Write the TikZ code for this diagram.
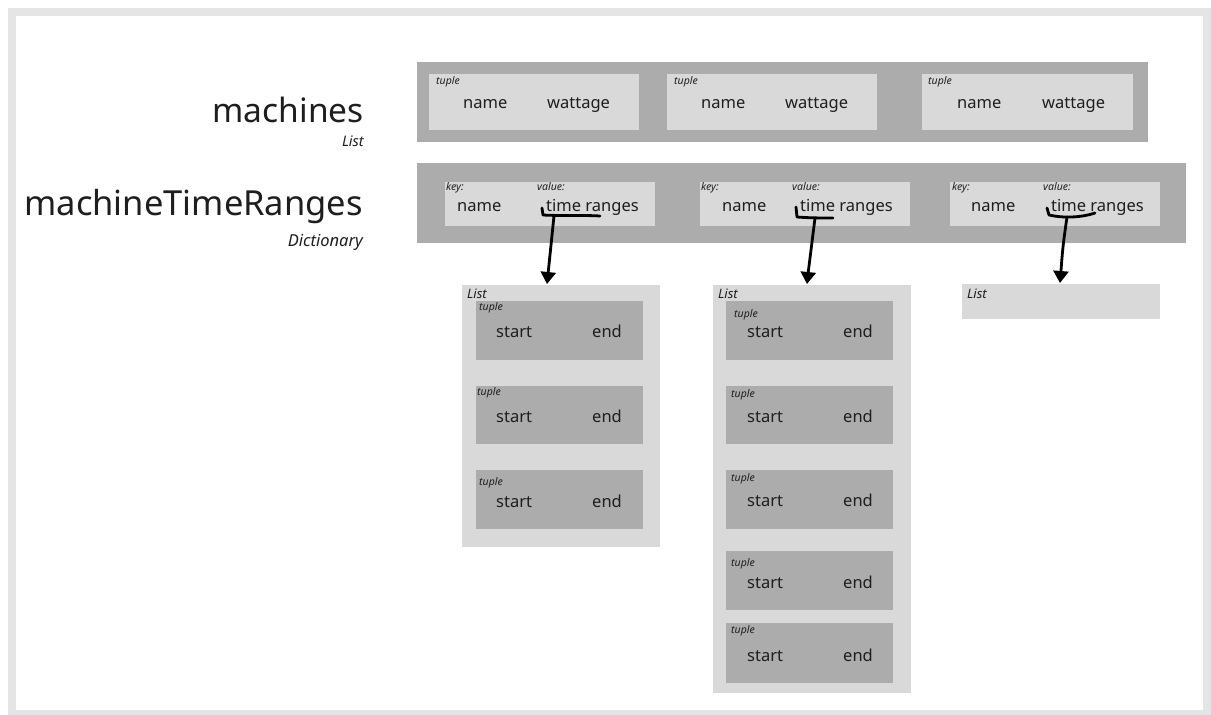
\documentclass[tikz,border=0pt]{standalone}
\usepackage{fontspec}
\setmainfont{Noto Sans}
\usetikzlibrary{arrows.meta}
\definecolor{framegrey}{HTML}{E5E5E5}
\definecolor{darkfill}{HTML}{ACACAC}
\definecolor{lightfill}{HTML}{D9D9D9}
\definecolor{ink}{HTML}{1E1E1E}
\newcommand\rbox[6]{\node[#1, minimum width=#5pt, minimum height=#6pt] (#2) at (#3,#4) {};}
\begin{document}
\begin{tikzpicture}[x=1pt,y=-1pt,
  box/.style={anchor=north west, inner sep=0pt, outer sep=0pt, draw=none},
  darkbox/.style={box, fill=darkfill},
  lightbox/.style={box, fill=lightfill},
  txt/.style={anchor=base west, inner sep=0pt, text=ink, font=\fontsize{16.5}{16.5}\selectfont},
  tag/.style={anchor=base west, inner sep=0pt, text=ink, font=\fontsize{10.5}{10.5}\selectfont\itshape},
  keytag/.style={anchor=base west, inner sep=0pt, text=ink, font=\fontsize{10.5}{10.5}\selectfont\itshape},
  listtag/.style={anchor=base west, inner sep=0pt, text=ink, font=\fontsize{13}{13}\selectfont\itshape},
  title/.style={anchor=base east, inner sep=0pt, text=ink, font=\fontsize{#1}{#1}\selectfont},
  subtitle/.style={anchor=base east, inner sep=0pt, text=ink, font=\fontsize{#1}{#1}\selectfont\itshape},
  hand/.style={draw=black, line width=2.8pt, line cap=round, line join=round},
  pointer/.style={hand, -{Triangle[width=15pt,length=12pt]}}
]
\useasboundingbox (0,0) rectangle (1211,715);
% page frame
\fill[framegrey] (8,8) rectangle (1211,715);
\fill[white] (16,16) rectangle (1203,710);

% headings
\node[title=33.5] (tmach) at (364,122) {machines};
\node[subtitle=14.5] (smach) at (364,146) {List};
\node[title=34.5] (tdict) at (363,215) {machineTimeRanges};
\node[subtitle=16.5] (sdict) at (363,246) {Dictionary};

% machines list
\rbox{darkbox}{mbar}{417}{62}{731}{80}
\rbox{lightbox}{mt1}{429}{74}{210}{56}
\rbox{lightbox}{mt2}{667}{74}{210}{56}
\rbox{lightbox}{mt3}{922}{74}{211}{56}
\node[tag] (mtt1) at (436,84) {tuple};
\node[tag] (mtt2) at (674,84) {tuple};
\node[tag] (mtt3) at (928,84) {tuple};
\node[txt] (mn1) at (463,108) {name};
\node[txt] (mn2) at (701,108) {name};
\node[txt] (mn3) at (957,108) {name};
\node[txt] (mw1) at (547,108) {wattage};
\node[txt] (mw2) at (785,108) {wattage};
\node[txt] (mw3) at (1042,108) {wattage};

% dictionary
\rbox{darkbox}{dbar}{417}{163}{769}{80}
\rbox{lightbox}{kv1}{445}{182}{210}{44}
\rbox{lightbox}{kv2}{700}{182}{210}{44}
\rbox{lightbox}{kv3}{950}{182}{210}{44}
\node[keytag] (k1) at (446,190) {key:};
\node[keytag] (k2) at (701,190) {key:};
\node[keytag] (k3) at (952,190) {key:};
\node[keytag] (v1) at (537,190) {value:};
\node[keytag] (v2) at (792,190) {value:};
\node[keytag] (v3) at (1043,190) {value:};
\node[txt] (dn1) at (457,211) {name};
\node[txt] (dn2) at (722,211) {name};
\node[txt] (dn3) at (971,211) {name};
\node[txt] (tr1) at (546,211) {time ranges};
\node[txt] (tr2) at (800,211) {time ranges};
\node[txt] (tr3) at (1051,211) {time ranges};

% value lists
\rbox{lightbox}{l1}{462}{285}{198}{262}
\rbox{lightbox}{l2}{713}{285}{198}{408}
\rbox{lightbox}{l3}{962}{284}{198}{35}
\node[listtag] (lt1) at (467,298) {List};
\node[listtag] (lt2) at (718,298) {List};
\node[listtag] (lt3) at (967,298) {List};

% tuples of the first list
\rbox{darkbox}{a1}{476}{301}{167}{59}
\rbox{darkbox}{a2}{476}{386}{167}{58}
\rbox{darkbox}{a3}{476}{470}{167}{59}
\node[tag] (at1) at (479,310) {tuple};
\node[tag] (at2) at (477,395) {tuple};
\node[tag] (at3) at (479,485) {tuple};
\foreach \n/\y in {1/337,2/422,3/507}{
  \node[txt] (as\n) at (496,\y) {start};
  \node[txt] (ae\n) at (592,\y) {end};
}

% tuples of the second list
\rbox{darkbox}{b1}{726}{301}{167}{59}
\rbox{darkbox}{b2}{726}{386}{167}{58}
\rbox{darkbox}{b3}{726}{470}{167}{59}
\rbox{darkbox}{b4}{726}{551}{167}{59}
\rbox{darkbox}{b5}{726}{623}{167}{60}
\node[tag] (bt1) at (734,317) {tuple};
\node[tag] (bt2) at (731,397) {tuple};
\node[tag] (bt3) at (731,481) {tuple};
\node[tag] (bt4) at (731,566) {tuple};
\node[tag] (bt5) at (731,633) {tuple};
\foreach \n/\y in {1/337,2/422,3/506,4/588,5/661}{
  \node[txt] (bs\n) at (747,\y) {start};
  \node[txt] (be\n) at (843,\y) {end};
}

% brackets under the values
\coordinate (c1a) at (542,208); \coordinate (c1b) at (543,215); \coordinate (c1c) at (600,216);
\coordinate (c2a) at (796,207); \coordinate (c2b) at (797,217); \coordinate (c2c) at (833,218);
\coordinate (c3a) at (1047,208); \coordinate (c3b) at (1049,215); \coordinate (c3c) at (1095,213);
\draw[hand] (c1a) -- (c1b) .. controls (560,216) and (585,215) .. (c1c);
\draw[hand] (c2a) -- (c2b) .. controls (810,218) and (822,218) .. (c2c);
\draw[hand] (c3a) -- (c3b) .. controls (1062,218) and (1080,218) .. (c3c);

% pointers to the lists
\coordinate (p1) at (554,216);
\coordinate (p2) at (815,218);
\coordinate (p3) at (1067,217);
\draw[pointer] (p1) .. controls (551,245) .. ([xshift=-14pt,yshift=1pt]l1.north);
\draw[pointer] (p2) .. controls (811,245) .. ([xshift=-5pt,yshift=1pt]l2.north);
\draw[pointer] (p3) .. controls (1063,245) .. ([xshift=-1pt,yshift=1pt]l3.north);
\end{tikzpicture}
\end{document}
